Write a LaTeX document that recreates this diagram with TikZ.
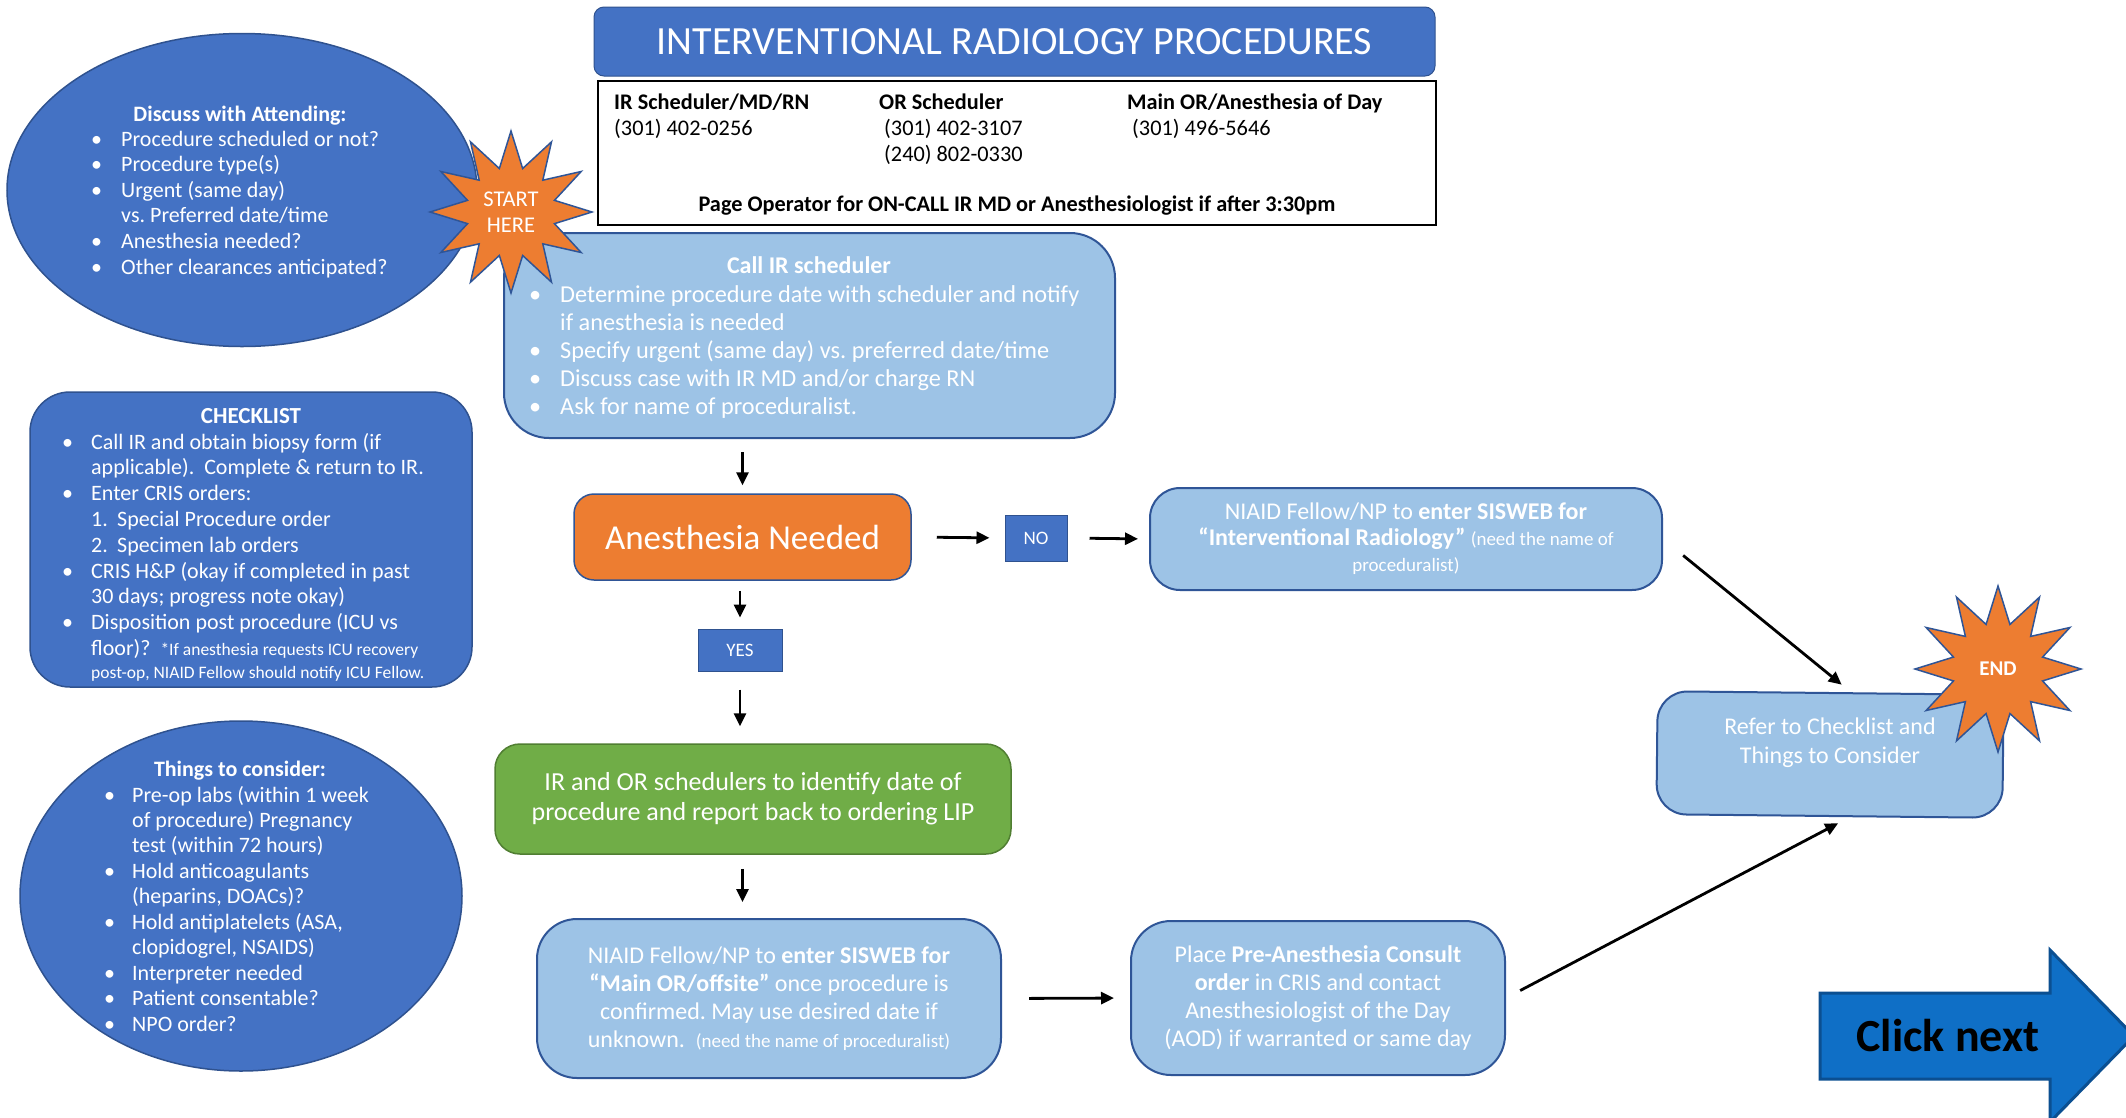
\documentclass[tikz,border=0pt]{standalone}
\usepackage{fontspec}
\setmainfont{Carlito}
\usetikzlibrary{shapes.geometric,arrows.meta}
\definecolor{dblue}{HTML}{4472C4}
\definecolor{dbord}{HTML}{2F528F}
\definecolor{lblue}{HTML}{9DC3E6}
\definecolor{lbord}{HTML}{2F5597}
\definecolor{orng}{HTML}{ED7D31}
\definecolor{grn}{HTML}{70AD47}
\definecolor{grnb}{HTML}{507E32}
\definecolor{cfill}{HTML}{0F6FC6}
\definecolor{cbord}{HTML}{0B4F91}
\newlength{\bulw}
\newcommand{\lbul}{\makebox[\bulw][l]{\textbullet}}
\newcommand{\lcont}{\hspace*{\bulw}}
\frenchspacing
\tikzset{
  darkshape/.style={fill=dblue, draw=dbord, line width=1.5pt, inner sep=0pt},
  lightbox/.style={fill=lblue, draw=lbord, line width=2pt, inner sep=0pt, text=white, align=center},
  arr/.style={line width=2.8pt, -{Triangle[length=13pt,width=12pt]}},
  wtxt/.style={text=white, inner sep=0pt},
  btxt/.style={text=black, inner sep=0pt, font=\fontsize{22.3}{26}\selectfont},
  burst/.style={star, star points=12, star point ratio=1.8, fill=orng, draw=lbord, line width=1.5pt, inner sep=0pt, text=white, align=center},
  smallbox/.style={fill=dblue, draw=dbord, line width=1pt, inner sep=0pt, text=white, font=\fontsize{19}{22}\selectfont},
}
\begin{document}
\begin{tikzpicture}[x=1pt,y=-1pt]
\useasboundingbox (0,0) rectangle (2126,1117);
\clip (0,0) rectangle (2126,1117);
\fill[white] (0,0) rectangle (2126,1117);

% title and info
\node[fill=dblue, draw=dbord, line width=1pt, rounded corners=10, minimum width=841, minimum height=69, text=white, font=\fontsize{40}{44}\selectfont] (title) at (1014.5,41.5) {INTERVENTIONAL RADIOLOGY PROCEDURES};
\node[draw=black, line width=2pt, fill=white, minimum width=838, minimum height=144] (info) at (1017,153) {};
\node[btxt, anchor=base west] (h1) at (614,109) {\textbf{IR Scheduler/MD/RN}};
\node[btxt, anchor=base west] (p1) at (614,135) {(301) 402-0256};
\node[btxt, anchor=base west] (h2) at (879,109) {\textbf{OR Scheduler}};
\node[btxt, anchor=base west] (p2) at (884,135) {(301) 402-3107};
\node[btxt, anchor=base west] (p3) at (884,161) {(240) 802-0330};
\node[btxt, anchor=base west] (h3) at (1127,109) {\textbf{Main OR/Anesthesia of Day}};
\node[btxt, anchor=base west] (p4) at (1132,135) {(301) 496-5646};
\node[btxt, anchor=base] (page) at (1017,211) {\textbf{Page Operator for ON-CALL IR MD or Anesthesiologist if after 3:30pm}};

% discuss ellipse
\node[darkshape, ellipse, minimum width=470, minimum height=313] (att) at (242,190) {};
\node[wtxt, font=\bfseries\fontsize{22}{25.6}\selectfont, anchor=base] (atttitle) at (240,121) {Discuss with Attending:};
\node[wtxt, font=\fontsize{22}{25.6}\selectfont, anchor=base west] (attlist) at (91,146) {\setlength{\bulw}{30pt}\begin{tabular}[t]{@{}l@{}}
\lbul Procedure scheduled or not?\\
\lbul Procedure type(s)\\
\lbul Urgent (same day)\\
\lcont vs. Preferred date/time\\
\lbul Anesthesia needed?\\
\lbul Other clearances anticipated?
\end{tabular}};

% checklist
\node[darkshape, rounded corners=40, minimum width=442, minimum height=295] (check) at (251,539.5) {};
\node[wtxt, font=\bfseries\fontsize{23}{25.8}\selectfont, anchor=base] (checktitle) at (251,423) {CHECKLIST};
\node[wtxt, font=\fontsize{22}{25.8}\selectfont, anchor=base west] (checklist) at (62,449) {\setlength{\bulw}{29pt}\begin{tabular}[t]{@{}l@{}}
\lbul Call IR and obtain biopsy form (if\\
\lcont applicable).\ \ Complete \& return to IR.\\
\lbul Enter CRIS orders:\\
\lcont\makebox[26pt][l]{1.}Special Procedure order\\
\lcont\makebox[26pt][l]{2.}Specimen lab orders\\
\lbul CRIS H\&P (okay if completed in past\\
\lcont 30 days; progress note okay)\\
\lbul Disposition post procedure (ICU vs\\
\lcont floor)?\ \ {\fontsize{17.5}{21}\selectfont *If anesthesia requests ICU recovery}\\[-3pt]
\lcont{\fontsize{17.5}{21}\selectfont post-op, NIAID Fellow should notify ICU Fellow.}
\end{tabular}};

% things ellipse
\node[darkshape, ellipse, minimum width=442, minimum height=350] (things) at (241,896) {};
\node[wtxt, font=\bfseries\fontsize{22}{25.4}\selectfont, anchor=base] (thingstitle) at (240,776) {Things to consider:};
\node[wtxt, font=\fontsize{22}{25.45}\selectfont, anchor=base west] (thingslist) at (104,802) {\setlength{\bulw}{28pt}\begin{tabular}[t]{@{}l@{}}
\lbul Pre-op labs (within 1 week\\
\lcont of procedure) Pregnancy\\
\lcont test (within 72 hours)\\
\lbul Hold anticoagulants\\
\lcont (heparins, DOACs)?\\
\lbul Hold antiplatelets (ASA,\\
\lcont clopidogrel, NSAIDS)\\
\lbul Interpreter needed\\
\lbul Patient consentable?\\
\lbul NPO order?
\end{tabular}};

% call IR
\node[lightbox, rounded corners=45, minimum width=611, minimum height=205] (callir) at (809.5,335.5) {};
\node[wtxt, font=\bfseries\fontsize{24}{28}\selectfont, anchor=base] (callirtitle) at (809,273) {Call IR scheduler};
\node[wtxt, font=\fontsize{24.3}{28}\selectfont, anchor=base west] (callirlist) at (529,302) {\setlength{\bulw}{31pt}\begin{tabular}[t]{@{}l@{}}
\lbul Determine procedure date with scheduler and notify\\
\lcont if anesthesia is needed\\
\lbul Specify urgent (same day) vs. preferred date/time\\
\lbul Discuss case with IR MD and/or charge RN\\
\lbul Ask for name of proceduralist.
\end{tabular}};

\node[burst, minimum size=162, font=\fontsize{22.5}{26}\selectfont] (start) at (511,212) {START\\HERE};

% flow
\node[fill=orng, draw=lbord, line width=1.5pt, rounded corners=20, minimum width=337, minimum height=86, inner sep=0pt, text=white, font=\fontsize{35}{40}\selectfont] (anes) at (742.5,537) {Anesthesia Needed};
\node[smallbox, minimum width=62, minimum height=46] (no) at (1036,538) {NO};
\node[smallbox, minimum width=84, minimum height=42] (yes) at (740,650) {YES};
\node[lightbox, rounded corners=30, minimum width=512, minimum height=102, font=\fontsize{24}{26}\selectfont] (niaid1) at (1406,539) {NIAID Fellow/NP to \textbf{enter SISWEB for}\\ \textbf{“Interventional Radiology”} {\fontsize{19}{26}\selectfont (need the name of}\\ {\fontsize{19}{26}\selectfont proceduralist)}};
\node[fill=grn, draw=grnb, line width=1.5pt, rounded corners=25, minimum width=516, minimum height=110, inner sep=0pt, text=white, align=center, font=\fontsize{26}{30}\selectfont] (green) at (753,799) {IR and OR schedulers to identify date of\\ procedure and report back to ordering LIP};
\node[lightbox, rounded corners=40, minimum width=464, minimum height=159, font=\fontsize{24}{28}\selectfont] (niaid2) at (769,998.5) {NIAID Fellow/NP to \textbf{enter SISWEB for}\\ \textbf{“Main OR/offsite”} once procedure is\\ confirmed. May use desired date if\\ unknown.\ \ {\fontsize{19}{28}\selectfont (need the name of proceduralist)}};
\node[lightbox, rounded corners=40, minimum width=374, minimum height=154, font=\fontsize{24}{28}\selectfont] (place) at (1318,998) {Place \textbf{Pre-Anesthesia Consult}\\ \textbf{order} in CRIS and contact\\ Anesthesiologist of the Day\\ (AOD) if warranted or same day};
\node[lightbox, rounded corners=30, minimum width=346, minimum height=123, rotate=-0.6] (refer) at (1830,754.5) {};
\node[wtxt, align=center, font=\fontsize{24}{29}\selectfont] (refertxt) at (1830,743) {Refer to Checklist and\\ Things to Consider};
\node[burst, minimum size=166, font=\bfseries\fontsize{21}{25}\selectfont] (end) at (1998,669) {END};

% connectors
\draw[arr, shorten <=13pt, shorten >=8pt] (anes.north |- callir.south) -- (anes.north);
\draw[arr, shorten <=25pt, shorten >=15pt] (anes.east) -- (no.west);
\draw[arr, shorten <=22pt, shorten >=11pt] (no.east) -- (niaid1.west);
\draw[arr, shorten <=10pt, shorten >=11pt] (yes.north |- anes.south) -- (yes.north);
\draw[arr, shorten <=18pt, shorten >=17pt] (yes.south) -- (yes.south |- green.north);
\draw[arr, shorten <=14pt, shorten >=16pt] (anes.south |- green.south) -- (anes.south |- niaid2.north);
\draw[arr, shorten <=27pt, shorten >=16pt] (niaid2.east) -- (place.west);
\draw[arr, shorten <=16pt, shorten >=13pt] (place.east) -- (refer.-72);
\draw[arr, shorten <=26pt, shorten >=12pt] (niaid1.east) -- (refer.72);

% click next arrow
\draw[fill=cfill, draw=cbord, line width=3pt, line join=miter] (1820,993) -- (2050,993) -- (2050,950) -- (2134,1036) -- (2050,1122) -- (2050,1079) -- (1820,1079) -- cycle;
\node[text=black, inner sep=0pt, font=\bfseries\fontsize{46}{50}\selectfont] (click) at (1948,1036) {Click next};
\end{tikzpicture}
\end{document}
